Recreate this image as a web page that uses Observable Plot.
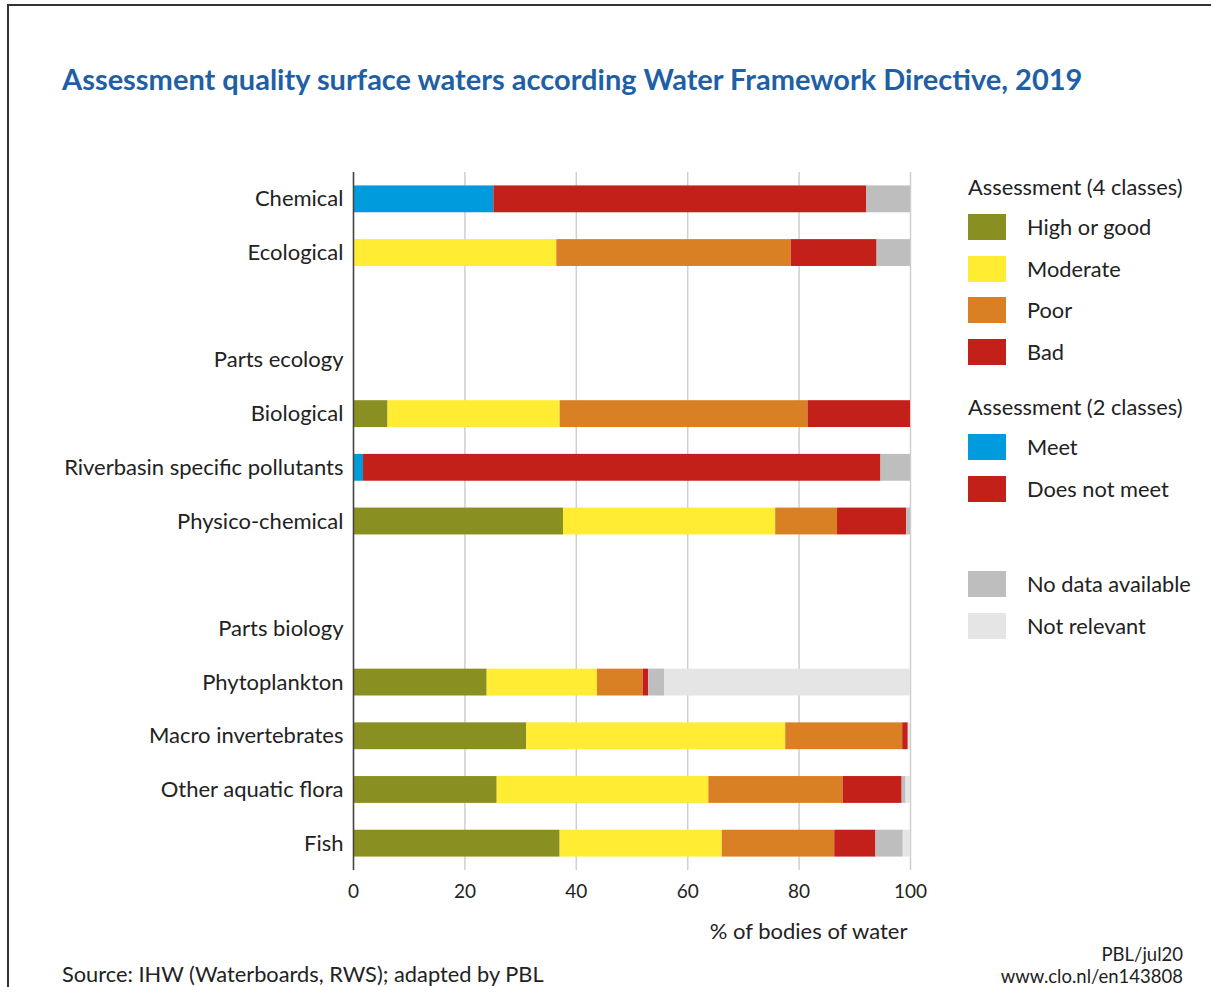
<!DOCTYPE html>
<html>
<head>
<meta charset="utf-8">
<script src="https://cdn.jsdelivr.net/npm/d3@7"></script>
<script src="https://cdn.jsdelivr.net/npm/@observablehq/plot@0.6"></script>
<style>
  html, body { margin: 0; padding: 0; background: #fff; overflow: hidden; width: 1211px; height: 987px; }
  body { position: relative; font-family: Lato, "Open Sans", sans-serif; color: #222; }
  #frame { position: absolute; left: 7px; top: 4px; width: 1300px; height: 1100px; border-top: 2px solid #333; border-left: 2px solid #333; }
  #title { position: absolute; left: 62px; top: 61px; font-size: 29px; font-weight: 700; color: #1f5fa6; white-space: nowrap; }
  #chart { position: absolute; left: 0; top: 0; }
  #legend { position: absolute; left: 968px; top: 0; font-size: 21.8px; }
  .lh { position: absolute; left: 0; white-space: nowrap; }
  .li { position: absolute; left: 0; white-space: nowrap; height: 26px; }
  .sw { position: absolute; left: 0; top: 0; width: 38px; height: 26px; }
  .lt { position: absolute; left: 59px; top: 0; line-height: 26px; }
  #source { position: absolute; left: 62px; top: 960px; font-size: 21.8px; white-space: nowrap; }
  #credit { position: absolute; right: 28px; top: 943px; font-size: 18.5px; text-align: right; line-height: 22px; }
</style>
</head>
<body>
<div id="frame"></div>
<div id="title">Assessment quality surface waters according Water Framework Directive, 2019</div>
<div id="chart"></div>
<div id="legend"></div>
<div id="source">Source: IHW (Waterboards, RWS); adapted by PBL</div>
<div id="credit">PBL/jul20<br>www.clo.nl/en143808</div>
<script>
// Row order on the y axis (blank entries are spacer rows)
const rows = ["Chemical", "Ecological", "", "Parts ecology", "Biological", "Riverbasin specific pollutants",
  "Physico-chemical", " ", "Parts biology", "Phytoplankton", "Macro invertebrates", "Other aquatic flora", "Fish"];

// Rows that carry a bar
const barRows = ["Chemical", "Ecological", "Biological", "Riverbasin specific pollutants", "Physico-chemical",
  "Phytoplankton", "Macro invertebrates", "Other aquatic flora", "Fish"];

// Series (% of bodies of water), aligned with barRows
const highGood    = [0,    0,    6.2,  0,    37.7, 24.0, 31.1, 25.8, 37.1];
const moderate    = [0,    36.5, 30.9, 0,    38.1, 19.8, 46.5, 38.0, 29.1];
const poor        = [0,    42.1, 44.5, 0,    11.1, 8.2,  21.0, 24.1, 20.2];
const bad         = [0,    15.4, 18.4, 0,    12.4, 1.0,  1.0,  10.6, 7.4];
const meet        = [25.2, 0,    0,    1.8,  0,    0,    0,    0,    0];
const doesNotMeet = [66.9, 0,    0,    92.9, 0,    0,    0,    0,    0];
const noData      = [7.9,  6.0,  0,    5.3,  0.7,  2.9,  0,    0.7,  4.9];
const notRelevant = [0,    0,    0,    0,    0,    44.1, 0.4,  0.8,  1.3];

const categories = ["High or good", "Moderate", "Poor", "Bad", "Meet", "Does not meet", "No data available", "Not relevant"];
const series = [highGood, moderate, poor, bad, meet, doesNotMeet, noData, notRelevant];
const colors = ["#8a8f22", "#ffec33", "#d98025", "#c22018", "#009bdc", "#c22018", "#bebebe", "#e5e5e5"];

const xTicks = [0, 20, 40, 60, 80, 100];

const data = [];
barRows.forEach((r, i) => {
  categories.forEach((c, k) => {
    const v = series[k][i];
    if (v > 0) data.push({row: r, category: c, value: v});
  });
});

const chart = Plot.plot({
  width: 910,
  height: 950,
  marginLeft: 353,
  marginRight: 0,
  marginTop: 172,
  marginBottom: 80,
  style: {fontFamily: "Lato, 'Open Sans', sans-serif", fontSize: "20px", color: "#222", background: "transparent", overflow: "visible"},
  x: {domain: [0, 100], ticks: xTicks},
  y: {domain: rows, paddingInner: 0.5, paddingOuter: 0.25, round: false, label: null},
  color: {domain: categories, range: colors},
  marks: [
    Plot.gridX(xTicks, {stroke: "#cfcfcf", strokeOpacity: 1, strokeWidth: 1.5}),
    Plot.barX(data, {x: "value", y: "row", fill: "category", order: categories}),
    Plot.ruleX([0], {stroke: "#444", strokeWidth: 1.5}),
    Plot.axisX(xTicks, {tickSize: 0, tickPadding: 14, fontSize: 19, label: null}),
    Plot.axisX({tickSize: 0, ticks: [], label: "% of bodies of water", labelAnchor: "right", labelArrow: "none", labelOffset: 68, fontSize: 22}),
    Plot.axisY(rows, {tickSize: 0, tickPadding: 10, fontSize: 22, label: null})
  ]
});
document.getElementById("chart").appendChild(chart);

// Legend
const legend = document.getElementById("legend");
const groups = [
  {header: "Assessment (4 classes)", headerTop: 173, items: ["High or good", "Moderate", "Poor", "Bad"], top: 214},
  {header: "Assessment (2 classes)", headerTop: 393, items: ["Meet", "Does not meet"], top: 434},
  {header: null, items: ["No data available", "Not relevant"], top: 571}
];
const step = 41.7;
for (const g of groups) {
  if (g.header) {
    const h = document.createElement("div");
    h.className = "lh";
    h.style.top = g.headerTop + "px";
    h.textContent = g.header;
    legend.appendChild(h);
  }
  g.items.forEach((name, j) => {
    const it = document.createElement("div");
    it.className = "li";
    it.style.top = (g.top + j * step) + "px";
    const sw = document.createElement("div");
    sw.className = "sw";
    sw.style.background = colors[categories.indexOf(name)];
    const t = document.createElement("div");
    t.className = "lt";
    t.textContent = name;
    it.appendChild(sw);
    it.appendChild(t);
    legend.appendChild(it);
  });
}
</script>
</body>
</html>
